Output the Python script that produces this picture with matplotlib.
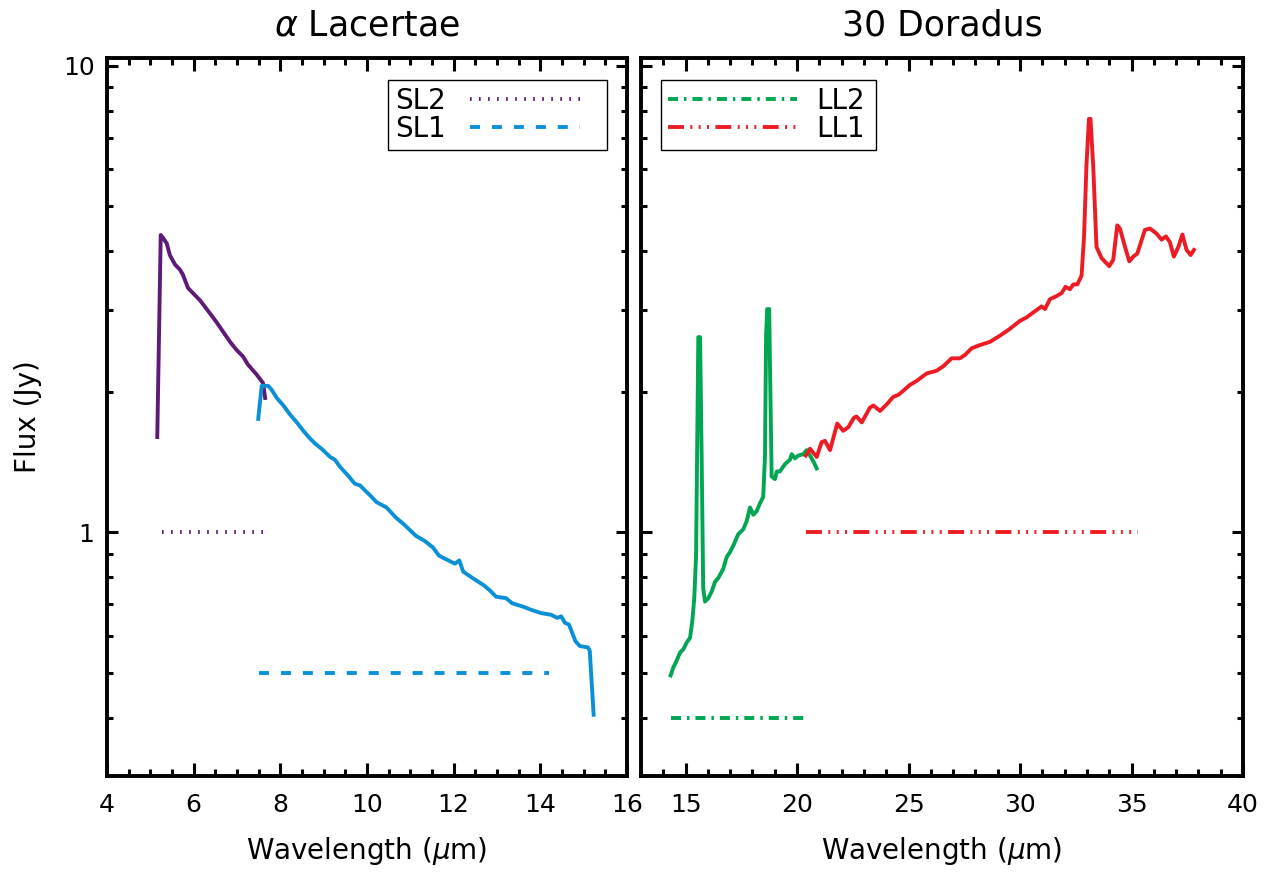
import matplotlib
matplotlib.use('Agg')
import matplotlib.pyplot as plt
from matplotlib.ticker import MultipleLocator, FixedLocator, NullFormatter

plt.rcParams['font.family'] = ['DejaVu Sans']
plt.rcParams['mathtext.fontset'] = 'dejavusans'
plt.rcParams['lines.scale_dashes'] = False

# alpha Lacertae, SL2 spectrum
sl2_wave = [5.16, 5.24, 5.30, 5.38, 5.45, 5.57, 5.68, 5.75, 5.87, 5.98, 6.15, 6.30,
            6.53, 6.68, 6.84, 6.99, 7.14, 7.25, 7.45, 7.60, 7.65]
sl2_flux = [1.60, 4.34, 4.27, 4.16, 3.93, 3.75, 3.66, 3.57, 3.34, 3.26, 3.14, 3.01,
            2.82, 2.69, 2.56, 2.46, 2.38, 2.29, 2.18, 2.09, 1.94]

# alpha Lacertae, SL1 spectrum
sl1_wave = [7.49, 7.57, 7.72, 7.80, 7.92, 8.07, 8.22, 8.38, 8.53, 8.68, 8.80, 8.95,
            9.15, 9.26, 9.38, 9.57, 9.72, 9.84, 9.95, 10.07, 10.22, 10.45, 10.67,
            10.85, 11.13, 11.33, 11.52, 11.66, 11.80, 12.03, 12.13, 12.22, 12.45,
            12.69, 12.83, 12.98, 13.21, 13.35, 13.59, 13.78, 14.01, 14.25, 14.39,
            14.48, 14.57, 14.66, 14.81, 14.91, 15.10, 15.14, 15.23]
sl1_flux = [1.75, 2.06, 2.06, 2.02, 1.94, 1.87, 1.79, 1.72, 1.65, 1.59, 1.55, 1.51,
            1.45, 1.43, 1.38, 1.32, 1.27, 1.26, 1.23, 1.20, 1.16, 1.13, 1.074,
            1.04, 0.982, 0.958, 0.928, 0.891, 0.877, 0.856, 0.870, 0.823, 0.796,
            0.770, 0.751, 0.727, 0.722, 0.704, 0.693, 0.682, 0.671, 0.665, 0.655,
            0.660, 0.639, 0.634, 0.584, 0.570, 0.566, 0.557, 0.406]

# 30 Doradus, LL2 spectrum
ll2_wave = [14.33, 14.45, 14.60, 14.75, 14.90, 15.05, 15.20, 15.30, 15.39, 15.47,
            15.57, 15.65, 15.72, 15.79, 15.87, 16.02, 16.17, 16.32, 16.47, 16.69,
            16.84, 16.99, 17.14, 17.36, 17.59, 17.74, 17.89, 18.04, 18.19, 18.34,
            18.48, 18.56, 18.61, 18.66, 18.75, 18.78, 18.86, 19.01, 19.09, 19.23,
            19.46, 19.68, 19.76, 19.91, 20.05, 20.28, 20.43, 20.58, 20.76, 20.88]
ll2_flux = [0.493, 0.513, 0.530, 0.552, 0.561, 0.580, 0.594, 0.644, 0.722, 0.891,
            2.62, 2.62, 1.45, 0.758, 0.710, 0.722, 0.746, 0.783, 0.798, 0.835,
            0.884, 0.906, 0.936, 0.990, 1.015, 1.056, 1.13, 1.09, 1.11, 1.155,
            1.19, 1.45, 2.64, 3.01, 3.01, 2.36, 1.316, 1.30, 1.35, 1.35,
            1.40, 1.43, 1.47, 1.44, 1.46, 1.47, 1.50, 1.46, 1.41, 1.37]

# 30 Doradus, LL1 spectrum
ll1_wave = [20.39, 20.58, 20.88, 21.10, 21.25, 21.48, 21.80, 22.07, 22.30, 22.55,
            22.67, 22.90, 23.27, 23.42, 23.72, 24.02, 24.31, 24.54, 24.76, 25.06,
            25.36, 25.81, 26.26, 26.56, 26.93, 27.30, 27.53, 27.83, 28.20, 28.65,
            29.10, 29.50, 30.00, 30.30, 30.59, 30.97, 31.12, 31.34, 31.64, 31.87,
            32.04, 32.24, 32.39, 32.57, 32.76, 32.87, 32.98, 33.09, 33.16, 33.28,
            33.43, 33.66, 34.00, 34.18, 34.36, 34.48, 34.71, 34.90, 35.08, 35.26,
            35.60, 35.83, 36.12, 36.35, 36.54, 36.72, 36.90, 37.10, 37.28, 37.47,
            37.65, 37.80]
ll1_flux = [1.46, 1.51, 1.45, 1.56, 1.57, 1.50, 1.71, 1.65, 1.68, 1.76,
            1.77, 1.72, 1.85, 1.87, 1.82, 1.88, 1.95, 1.97, 2.01, 2.07,
            2.11, 2.19, 2.22, 2.27, 2.36, 2.36, 2.40, 2.48, 2.52, 2.56,
            2.64, 2.72, 2.84, 2.89, 2.96, 3.05, 3.01, 3.16, 3.21, 3.26,
            3.36, 3.32, 3.40, 3.40, 3.55, 4.30, 6.13, 7.70, 7.70, 6.13,
            4.09, 3.87, 3.72, 3.84, 4.55, 4.48, 4.09, 3.81, 3.90, 3.96,
            4.45, 4.48, 4.37, 4.24, 4.31, 4.19, 3.90, 4.09, 4.35, 4.03,
            3.93, 4.03]

# module line-style keys: (x range, level)
sl2_key_x, sl2_key_y = [5.27, 7.6], 1.0
sl1_key_x, sl1_key_y = [7.5, 14.2], 0.5
ll2_key_x, ll2_key_y = [14.35, 20.4], 0.4
ll1_key_x, ll1_key_y = [20.4, 35.3], 1.0

purple = '#5e1a78'
blue = '#0a90d6'
green = '#00a651'
red = '#ed1c24'

ls_sl2 = (0, (1.2, 5.3))
ls_sl1 = (0, (7.2, 8.6))
ls_ll2 = (0, (7.2, 4.3, 1.8, 4.3))
ls_ll1 = (0, (11.5, 4.6, 1.4, 4.6, 1.4, 4.6, 1.4, 4.6))

fig = plt.figure(figsize=(12.65, 8.74), dpi=100)
ax1 = fig.add_axes([107 / 1265, 1 - 776 / 874, 520 / 1265, 718 / 874])
ax2 = fig.add_axes([641 / 1265, 1 - 776 / 874, 602 / 1265, 718 / 874])

ax1.plot(sl2_wave, sl2_flux, color=purple, lw=2.8)
ax1.plot(sl1_wave, sl1_flux, color=blue, lw=2.8)
ax1.plot(sl2_key_x, [sl2_key_y] * 2, color=purple, lw=2.8, ls=ls_sl2, label='SL2')
ax1.plot(sl1_key_x, [sl1_key_y] * 2, color=blue, lw=2.8, ls=ls_sl1, label='SL1')

ax2.plot(ll2_wave, ll2_flux, color=green, lw=2.8)
ax2.plot(ll1_wave, ll1_flux, color=red, lw=2.8)
ax2.plot(ll2_key_x, [ll2_key_y] * 2, color=green, lw=2.8, ls=ls_ll2, label='LL2')
ax2.plot(ll1_key_x, [ll1_key_y] * 2, color=red, lw=2.8, ls=ls_ll1, label='LL1')

for ax in (ax1, ax2):
    ax.set_yscale('log')
    ax.set_ylim(0.3, 10.4)
    ax.yaxis.set_major_locator(FixedLocator([1, 10]))
    ax.yaxis.set_minor_locator(FixedLocator([0.3, 0.4, 0.5, 0.6, 0.7, 0.8, 0.9,
                                             2, 3, 4, 5, 6, 7, 8, 9]))
    ax.yaxis.set_minor_formatter(NullFormatter())
    for s in ax.spines.values():
        s.set_linewidth(2.8)
    ax.tick_params(which='both', direction='in', top=True, right=True,
                   width=2.2, labelsize=18)
    ax.tick_params(axis='x', which='major', length=9.5, pad=12)
    ax.tick_params(axis='x', which='minor', length=5)
    ax.tick_params(axis='y', which='major', length=8, pad=9)
    ax.tick_params(axis='y', which='minor', length=4)
    ax.set_xlabel(r'Wavelength ($\mu$m)', fontsize=20)
    ax.xaxis.set_label_coords(0.5, -0.082)

ax1.set_xlim(4, 16)
ax1.xaxis.set_major_locator(MultipleLocator(2))
ax1.xaxis.set_minor_locator(MultipleLocator(0.5))
ax1.set_yticklabels(['1', '10'])
ax1.set_ylabel('Flux (Jy)', fontsize=20)
ax1.yaxis.set_label_coords(-0.125, 0.5)
ax1.set_title(r'$\alpha$ Lacertae', fontsize=25, pad=16)

ax2.set_xlim(13, 40)
ax2.xaxis.set_major_locator(MultipleLocator(5))
ax2.xaxis.set_minor_locator(MultipleLocator(1))
ax2.tick_params(axis='y', labelleft=False)
ax2.set_title('30 Doradus', fontsize=25, pad=16)

leg1 = ax1.legend(loc='upper left', bbox_to_anchor=(0.541, 0.869, 0.42, 0.1),
                  mode='expand', borderaxespad=0,
                  fontsize=20, markerfirst=False, handlelength=3.96, handletextpad=0.86,
                  labelspacing=0.0, borderpad=0.25, fancybox=False, framealpha=1)
leg2 = ax2.legend(loc='upper left', bbox_to_anchor=(0.034, 0.869, 0.357, 0.1),
                  mode='expand', borderaxespad=0,
                  fontsize=20, handlelength=4.64, handletextpad=0.68,
                  labelspacing=0.0, borderpad=0.25, fancybox=False, framealpha=1)
for leg in (leg1, leg2):
    leg.get_frame().set_edgecolor('black')
    leg.get_frame().set_linewidth(1.0)

fig.savefig('out.png', dpi=100)
